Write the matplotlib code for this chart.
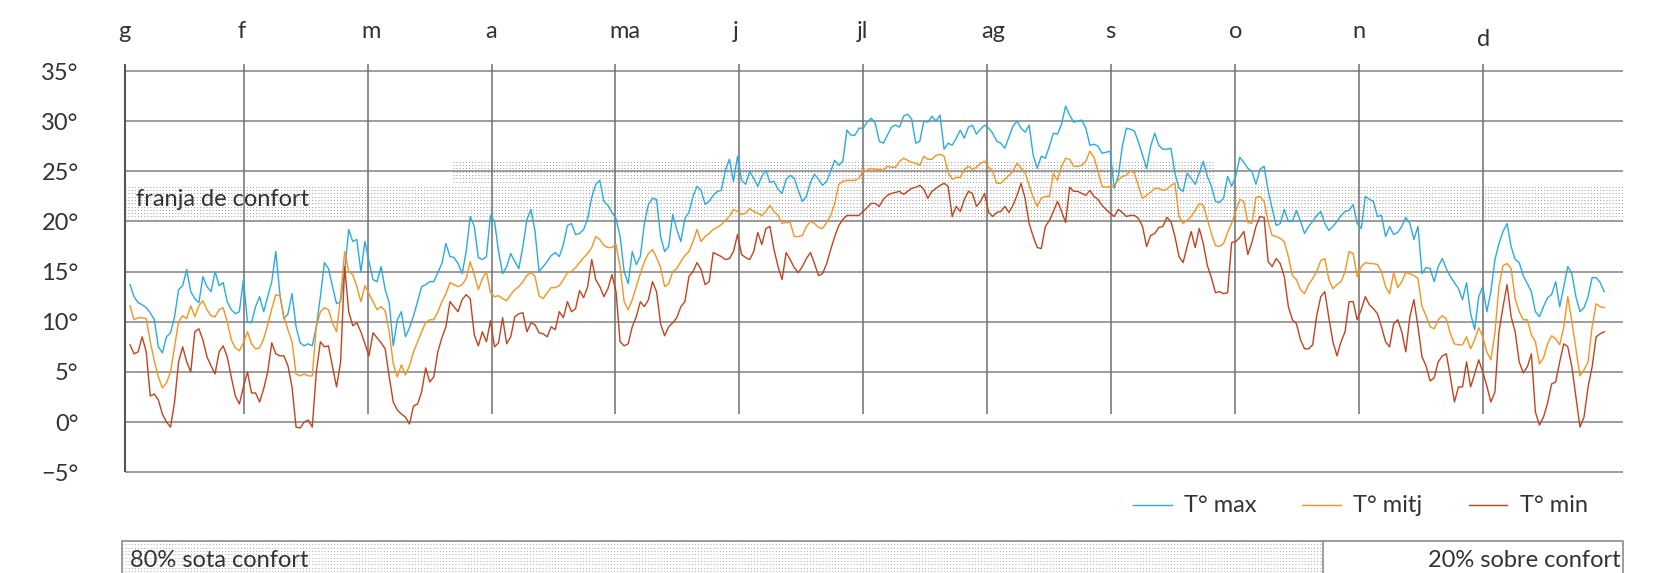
import numpy as np
import matplotlib.pyplot as plt
from matplotlib.patches import Rectangle

# daily temperatures (deg C), 1 Jan .. 31 Dec
t_max = [
    13.7, 12.5, 11.9, 11.7, 11.4, 10.9, 10.2, 7.5, 6.9, 8.5,
    8.9, 10.5, 13.2, 13.6, 15.2, 13.0, 12.3, 11.9, 14.5, 13.5,
    13.0, 15.0, 13.6, 13.9, 12.0, 11.2, 10.8, 11.0, 14.2, 10.0,
    9.9, 11.5, 12.5, 11.0, 12.5, 14.0, 17.0, 12.8, 10.3, 10.8,
    12.8, 9.5, 7.9, 7.6, 7.8, 7.6, 9.5, 12.5, 15.9, 15.3,
    13.5, 11.8, 12.0, 15.0, 19.2, 18.0, 18.2, 15.0, 18.0, 16.0,
    14.2, 14.0, 15.5, 13.2, 11.9, 7.6, 10.2, 11.0, 8.5, 9.4,
    10.6, 12.0, 13.5, 13.7, 14.0, 14.0, 14.9, 15.8, 17.8, 16.5,
    16.4, 15.8, 14.8, 17.0, 20.5, 19.5, 16.4, 16.2, 16.5, 20.6,
    20.0, 17.0, 14.8, 15.5, 16.8, 16.0, 15.3, 17.5, 20.2, 21.2,
    19.0, 15.0, 15.5, 16.0, 16.6, 16.9, 16.5, 17.7, 19.6, 19.8,
    18.7, 18.8, 19.2, 20.3, 22.4, 23.7, 24.1, 22.0, 21.6, 20.9,
    20.3, 18.5, 15.0, 13.8, 17.0, 15.7, 16.5, 19.8, 21.7, 22.3,
    22.2, 18.5, 17.0, 17.5, 20.7, 19.2, 18.0, 20.3, 20.9, 22.5,
    23.5, 23.1, 21.7, 22.0, 22.6, 23.0, 23.1, 25.1, 26.2, 24.0,
    26.5, 24.1, 23.7, 25.0, 24.3, 23.5, 24.5, 25.1, 23.9, 24.0,
    23.2, 22.8, 24.2, 24.6, 24.3, 23.1, 22.0, 22.5, 23.9, 24.7,
    24.2, 23.6, 24.0, 25.0, 26.1, 25.6, 26.0, 29.1, 28.6, 28.6,
    29.3, 29.3, 29.9, 30.3, 29.8, 28.0, 27.8, 28.6, 29.4, 29.6,
    29.4, 30.5, 30.7, 30.2, 27.8, 28.0, 30.0, 29.9, 30.5, 30.0,
    30.6, 27.2, 27.8, 27.6, 28.3, 29.1, 28.3, 29.4, 29.6, 28.7,
    29.2, 29.6, 29.3, 28.8, 28.0, 27.8, 27.3, 28.4, 29.5, 30.0,
    29.3, 28.9, 29.6, 26.6, 25.3, 26.5, 26.3, 27.5, 28.8, 28.7,
    29.7, 31.5, 30.6, 29.9, 30.0, 30.1, 29.3, 27.6, 27.7, 27.5,
    26.8, 26.9, 27.0, 23.3, 24.5, 27.5, 29.3, 29.2, 29.0, 27.9,
    26.6, 25.3, 27.5, 28.8, 27.6, 27.2, 27.2, 27.3, 24.8, 23.3,
    23.0, 24.8, 24.3, 23.7, 24.8, 26.0, 24.5, 23.5, 22.0, 21.9,
    22.3, 24.5, 23.5, 24.5, 26.4, 25.9, 25.3, 25.0, 23.7, 25.2,
    25.5, 23.1, 21.3, 19.6, 19.8, 21.2, 20.0, 20.0, 21.1, 20.0,
    18.8, 19.5, 20.0, 20.6, 21.0, 19.8, 19.1, 19.5, 20.0, 20.6,
    21.0, 21.1, 21.7, 19.8, 19.3, 22.5, 22.2, 22.0, 20.5, 20.6,
    18.5, 19.5, 18.7, 18.9, 19.5, 20.4, 19.8, 18.2, 19.5, 14.8,
    15.4, 15.3, 14.0, 15.5, 16.3, 15.3, 14.5, 13.9, 13.3, 12.2,
    13.9, 10.8, 9.2, 12.5, 13.5, 11.0, 13.0, 16.2, 17.8, 19.0,
    19.8, 17.5, 16.2, 15.9, 14.6, 13.8, 13.0, 11.0, 10.5, 11.5,
    12.4, 12.7, 14.0, 11.5, 13.5, 15.5, 14.8, 12.5, 11.0, 11.4,
    12.5, 14.4, 14.4, 13.9, 13.0,
]

t_mitj = [
    11.6, 10.2, 10.4, 10.4, 10.3, 8.0, 6.1, 4.5, 3.4, 3.9,
    5.0, 7.5, 10.0, 10.6, 10.3, 11.6, 10.5, 11.6, 12.1, 11.2,
    10.6, 10.5, 11.2, 11.4, 10.0, 8.2, 7.4, 7.1, 7.9, 9.0,
    7.8, 7.3, 7.4, 8.3, 9.7, 11.3, 12.7, 12.6, 10.5, 9.2,
    8.0, 4.8, 4.6, 4.8, 4.6, 4.6, 9.5, 11.0, 11.4, 11.2,
    9.9, 9.0, 12.5, 17.0, 15.0, 14.7, 13.5, 12.0, 13.6, 12.8,
    12.0, 11.2, 11.5, 11.1, 9.0, 5.8, 4.5, 5.7, 4.7, 5.6,
    7.0, 8.0, 9.0, 9.9, 10.2, 10.2, 11.0, 12.0, 12.8, 13.9,
    13.7, 13.5, 13.7, 14.3, 16.0, 14.7, 13.2, 14.3, 15.0, 12.9,
    12.5, 12.6, 12.3, 12.1, 12.7, 13.2, 13.5, 14.0, 14.6, 14.9,
    14.5, 12.6, 12.3, 12.9, 13.4, 13.4, 13.6, 14.2, 14.9, 15.0,
    15.4, 15.9, 16.4, 16.8, 17.4, 18.5, 18.2, 17.6, 17.4, 17.4,
    17.7, 15.5, 12.0, 11.2, 12.2, 13.5, 14.8, 16.0, 16.8, 17.2,
    16.4, 15.4, 13.5, 13.8, 15.0, 15.3, 16.0, 16.6, 17.0, 18.0,
    19.2, 18.0, 18.5, 18.8, 19.2, 19.4, 19.7, 20.1, 20.5, 21.2,
    21.0, 20.7, 20.8, 21.3, 21.0, 20.8, 20.6, 21.0, 21.6, 21.0,
    20.6, 19.8, 19.9, 19.9, 18.5, 18.5, 18.6, 19.5, 20.0, 19.8,
    19.4, 19.3, 19.9, 20.6, 21.8, 23.7, 24.0, 24.1, 24.1, 24.1,
    24.3, 25.1, 25.1, 25.3, 25.2, 25.2, 25.1, 25.5, 25.4, 25.4,
    26.0, 26.3, 26.1, 25.9, 25.8, 25.6, 26.5, 26.2, 26.2, 26.6,
    26.7, 26.5, 24.9, 24.2, 24.4, 24.4, 25.2, 25.5, 25.2, 25.4,
    25.8, 26.0, 25.4, 25.0, 23.8, 23.8, 24.2, 24.6, 25.0, 25.8,
    25.3, 24.9, 23.6, 22.4, 21.5, 22.3, 22.5, 22.5, 24.8, 24.1,
    25.5, 26.3, 26.2, 25.5, 25.5, 25.6, 26.0, 27.0, 26.4, 25.0,
    23.5, 23.4, 23.5, 23.6, 24.1, 24.5, 24.6, 25.1, 24.8, 23.5,
    22.3, 22.6, 22.9, 23.3, 23.3, 23.1, 23.2, 23.6, 23.8, 20.5,
    19.8, 20.1, 20.5, 21.1, 21.8, 21.6, 20.2, 18.8, 17.6, 17.5,
    17.8, 18.9, 19.8, 21.0, 22.2, 22.0, 19.9, 19.8, 22.4, 22.5,
    22.0, 20.0, 18.6, 18.5, 18.3, 18.0, 16.5, 14.6, 14.2, 13.2,
    12.8, 13.7, 14.3, 15.0, 16.1, 16.3, 14.2, 13.3, 13.7, 14.0,
    15.0, 17.0, 16.8, 14.5, 15.5, 15.9, 15.8, 15.8, 15.7, 15.0,
    13.5, 12.8, 14.9, 13.4, 14.0, 14.9, 14.8, 14.6, 14.3, 11.5,
    10.6, 9.5, 9.3, 10.2, 10.6, 10.3, 8.8, 7.8, 7.7, 7.7,
    8.5, 7.3, 8.2, 9.4, 8.5, 7.0, 6.2, 8.9, 13.5, 15.6,
    15.8, 15.3, 12.3, 11.0, 10.2, 10.2, 8.7, 8.0, 5.8, 6.4,
    7.8, 8.6, 8.3, 7.7, 9.5, 12.5, 10.0, 7.3, 4.6, 5.2,
    6.0, 9.5, 11.8, 11.5, 11.4,
]

t_min = [
    7.7, 6.8, 7.0, 8.5, 7.0, 2.6, 2.8, 2.2, 0.8, 0.0,
    -0.5, 2.0, 6.0, 7.5, 6.0, 5.0, 9.0, 9.3, 8.2, 6.5,
    5.6, 4.8, 7.0, 7.6, 6.5, 4.5, 2.6, 1.8, 3.5, 5.0,
    2.9, 2.9, 2.0, 3.3, 5.0, 7.9, 6.8, 6.6, 6.6, 5.6,
    3.5, -0.5, -0.6, 0.0, 0.2, -0.5, 5.0, 8.0, 7.5, 7.6,
    5.5, 3.5, 6.0, 15.5, 11.0, 9.6, 9.9, 9.0, 7.8, 6.6,
    8.9, 8.4, 7.9, 7.3, 4.5, 2.0, 1.2, 0.8, 0.5, -0.2,
    1.6, 1.8, 3.0, 5.4, 4.0, 4.5, 7.0, 8.4, 9.5, 12.0,
    11.5, 11.0, 12.2, 12.7, 12.3, 8.7, 7.6, 9.0, 8.0, 10.1,
    7.5, 7.9, 10.4, 7.8, 8.5, 10.5, 10.8, 10.9, 9.0, 9.9,
    9.7, 8.9, 8.8, 8.5, 9.5, 9.2, 11.0, 10.4, 12.0, 11.0,
    11.3, 13.1, 12.4, 13.5, 16.2, 14.2, 13.5, 12.5, 13.3, 14.7,
    13.0, 8.0, 7.6, 7.8, 9.5, 10.5, 12.0, 11.5, 12.2, 14.0,
    13.0, 9.8, 8.6, 9.5, 9.9, 10.4, 11.5, 12.0, 14.5, 15.0,
    15.9, 15.2, 13.7, 14.0, 16.9, 16.7, 16.5, 16.2, 16.3, 17.0,
    18.7, 16.7, 16.4, 16.2, 17.0, 18.9, 17.7, 19.3, 19.5, 17.2,
    15.5, 14.2, 16.9, 16.2, 15.4, 14.9, 15.5, 16.3, 16.9, 15.8,
    14.6, 14.8, 15.8, 17.2, 18.5, 19.6, 20.2, 20.6, 20.6, 20.6,
    20.6, 21.0, 21.4, 21.8, 21.8, 21.5, 22.2, 22.6, 22.8, 22.9,
    23.0, 22.7, 23.0, 23.3, 23.4, 23.6, 23.2, 22.3, 23.0, 23.3,
    23.6, 23.8, 23.5, 20.5, 21.5, 21.0, 22.2, 23.0, 22.8, 21.5,
    22.0, 22.8, 20.9, 20.5, 20.9, 21.0, 21.5, 20.9, 21.6, 22.6,
    23.8, 22.3, 19.8, 18.5, 17.4, 17.3, 19.5, 20.1, 21.0, 22.0,
    21.0, 19.9, 23.4, 23.0, 23.0, 22.8, 22.6, 23.1, 22.5, 22.2,
    21.6, 21.2, 20.8, 20.5, 21.2, 20.9, 20.5, 20.6, 20.6, 20.3,
    19.5, 17.5, 18.6, 18.8, 19.4, 19.5, 20.4, 20.0, 18.5, 16.5,
    15.9, 17.5, 19.0, 17.4, 19.3, 17.8, 15.6, 14.4, 12.9, 13.0,
    12.8, 12.9, 17.9, 18.0, 18.4, 19.0, 16.7, 17.9, 19.5, 20.5,
    20.4, 16.0, 15.5, 16.3, 15.8, 14.5, 11.5, 10.2, 9.8, 8.2,
    7.3, 7.3, 7.7, 10.6, 12.5, 13.0, 10.4, 8.0, 6.6, 8.0,
    9.0, 12.0, 12.0, 10.2, 11.2, 12.5, 11.7, 11.3, 10.8, 9.5,
    8.0, 7.5, 9.8, 10.2, 9.0, 7.0, 10.5, 12.2, 9.5, 6.5,
    5.6, 4.1, 4.4, 6.0, 6.6, 6.8, 4.5, 2.0, 3.5, 3.5,
    6.0, 3.5, 4.8, 6.2, 5.0, 3.6, 2.0, 3.0, 9.0, 11.5,
    13.7, 10.5, 9.0, 6.0, 4.9, 5.5, 6.8, 1.0, -0.3, 0.5,
    1.9, 3.8, 4.0, 6.0, 7.8, 7.5, 5.5, 2.5, -0.5, 0.5,
    3.5, 5.5, 8.5, 8.8, 9.0,
]

months = ['g', 'f', 'm', 'a', 'ma', 'j', 'jl', 'ag', 's', 'o', 'n', 'd']
y_ticks = [35, 30, 25, 20, 15, 10, 5, 0, -5]
series_labels = ['T° max', 'T° mitj', 'T° min']
band_text = 'franja de confort'
share_labels = ['80% sota confort', '20% sobre confort']
share_below = 0.8

colors = ['#29abe2', '#f7931e', '#c1441e']
grid_col = '#8c8c8c'
txt_col = '#333333'
font = dict(family=['Lato', 'DejaVu Sans'], fontsize=17, color=txt_col)

days = np.arange(len(t_max))

fig = plt.figure(figsize=(16.63, 5.73), dpi=100)
ax = fig.add_axes([0, 0, 1, 1])
ax.set_xlim(-32.1, 378.5)
ax.set_ylim(-15.05, 42.08)
ax.axis('off')

x_left, x_right = -1.2, 368.6
month_x = -2.54 + 30.6 * np.arange(12)
month_x[0] = x_left


def dotted(x0, x1, y0, y1, color='#9a9a9a'):
    # stipple made of thin dotted rows
    for y in np.arange(y0 + 0.17, y1, 0.33):
        ax.plot([x0, x1], [y, y], color=color, lw=0.7, dashes=(1, 2.2),
                solid_capstyle='butt', zorder=1)


# comfort band
dotted(x_left, x_right, 20, 23.8)
dotted(79.8, 267.4, 23.8, 26.1)
ax.text(1.5, 21.55, band_text, va='baseline', ha='left', zorder=2, **font)

# grid
ax.hlines(y_ticks, x_left, x_right, color=grid_col, lw=1.2, zorder=2)
ax.vlines(month_x[1:], 0.8, 35.7, color='#707070', lw=1.1, zorder=2)
ax.vlines(x_left, -5, 35.7, color='#555555', lw=1.5, zorder=2)

for t in y_ticks:
    lab = f'{t}°' if t >= 0 else f'\u2212{-t}°'
    ax.text(-12.7, t - 0.85, lab, ha='right', va='baseline', **font)

for mx, m in zip(month_x, months):
    yb = 37.5 if m == 'd' else 38.3
    ax.text(mx - 1.6, yb, m, ha='left', va='baseline', **font)

# temperature series
for vals, c in zip([t_max, t_mitj, t_min], colors):
    ax.plot(days, vals, color=c, lw=1.0, zorder=3)

# legend
leg_x = [247.7, 289.4, 330.6]
for lx, c, lab in zip(leg_x, colors, series_labels):
    ax.plot([lx, lx + 9.5], [-8.27, -8.27], color=c, lw=1.0)
    ax.text(lx + 12.5, -9.0, lab, ha='left', va='baseline', **font)

# share of the year below / above comfort
bar_x0 = -2.0
split = bar_x0 + share_below * (x_right - bar_x0)
dotted(bar_x0, split, -16.0, -11.86, color='#aaaaaa')
ax.add_patch(Rectangle((bar_x0, -16.0), x_right - bar_x0, 4.14, fill=False,
                       edgecolor='#8c8c8c', lw=1.2, zorder=2))
ax.vlines(split, -16.0, -11.86, color='#8c8c8c', lw=1.2, zorder=2)
ax.text(bar_x0 + 2.0, -14.45, share_labels[0], ha='left', va='baseline',
        zorder=3, **font)
ax.text(x_right - 0.5, -14.45, share_labels[1], ha='right', va='baseline',
        zorder=3, **font)

fig.savefig('out.png', dpi=100)
